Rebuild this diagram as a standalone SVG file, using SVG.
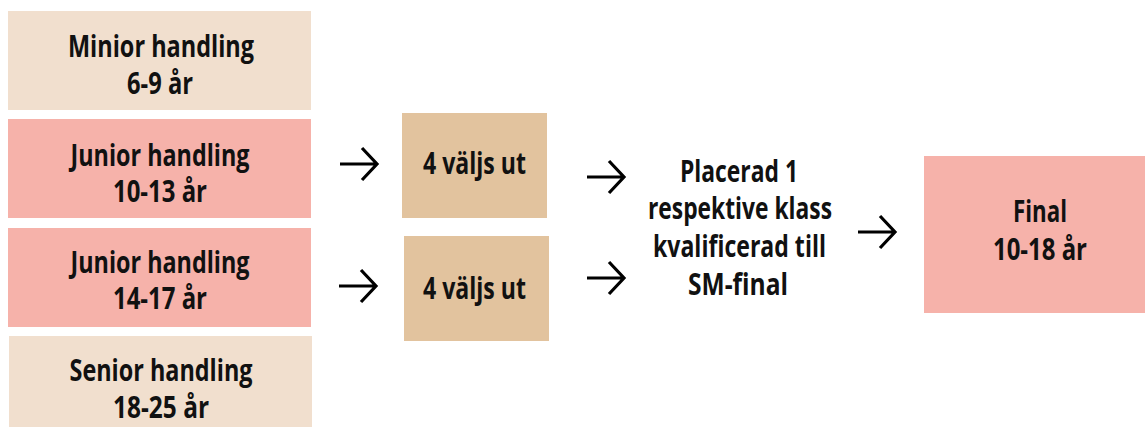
<svg xmlns="http://www.w3.org/2000/svg" width="1145" height="427" viewBox="0 0 1145 427">
<style>
.t{font-family:"Open Sans","Liberation Sans",sans-serif;font-weight:bold;font-size:30px;fill:#111;text-anchor:middle}
.beige{fill:#F1DFCE}
.pink{fill:#F6B2AA}
.tan{fill:#E2C39E}
.arr{fill:none;stroke:#000;stroke-width:3.2}
</style>
<rect width="1145" height="427" fill="#fff"/>
<g id="minior">
<rect class="beige" x="8" y="11" width="303" height="99"/>
<text class="t" x="161" y="57" textLength="186" lengthAdjust="spacingAndGlyphs">Minior handling</text>
<text class="t" x="160" y="94" textLength="66" lengthAdjust="spacingAndGlyphs">6-9 år</text>
</g>
<g id="junior1013">
<rect class="pink" x="8" y="119" width="303" height="99"/>
<text class="t" x="160" y="166" textLength="179" lengthAdjust="spacingAndGlyphs">Junior handling</text>
<text class="t" x="160" y="202" textLength="94" lengthAdjust="spacingAndGlyphs">10-13 år</text>
</g>
<g id="junior1417">
<rect class="pink" x="8" y="228" width="303" height="99"/>
<text class="t" x="160" y="273" textLength="179" lengthAdjust="spacingAndGlyphs">Junior handling</text>
<text class="t" x="160" y="309" textLength="94" lengthAdjust="spacingAndGlyphs">14-17 år</text>
</g>
<g id="senior">
<rect class="beige" x="9" y="336" width="303" height="91"/>
<text class="t" x="161" y="381" textLength="183" lengthAdjust="spacingAndGlyphs">Senior handling</text>
<text class="t" x="161" y="418" textLength="96" lengthAdjust="spacingAndGlyphs">18-25 år</text>
</g>
<g id="valj1">
<rect class="tan" x="402" y="113" width="145" height="105"/>
<text class="t" x="474.5" y="174" textLength="103" lengthAdjust="spacingAndGlyphs">4 väljs ut</text>
</g>
<g id="valj2">
<rect class="tan" x="404" y="236" width="145" height="105"/>
<text class="t" x="474.5" y="299" textLength="103" lengthAdjust="spacingAndGlyphs">4 väljs ut</text>
</g>
<g id="placerad">
<text class="t" x="739" y="182" textLength="118" lengthAdjust="spacingAndGlyphs">Placerad 1</text>
<text class="t" x="740" y="219" textLength="184" lengthAdjust="spacingAndGlyphs">respektive klass</text>
<text class="t" x="739.5" y="257" textLength="173" lengthAdjust="spacingAndGlyphs">kvalificerad till</text>
<text class="t" x="738" y="295" textLength="100" lengthAdjust="spacingAndGlyphs">SM-final</text>
</g>
<g id="final">
<rect class="pink" x="924" y="156" width="221" height="157"/>
<text class="t" x="1040" y="222" textLength="54" lengthAdjust="spacingAndGlyphs">Final</text>
<text class="t" x="1040" y="260" textLength="94" lengthAdjust="spacingAndGlyphs">10-18 år</text>
</g>
<g id="connectors">
<path class="arr" d="M340 164H377M362 148L377 164L362 180"/>
<path class="arr" d="M339 286H376M361 270L376 286L361 302"/>
<path class="arr" d="M587 177H624M609 161L624 177L609 193"/>
<path class="arr" d="M587 278H624M609 262L624 278L609 294"/>
<path class="arr" d="M858 232H895M880 216L895 232L880 248"/>
</g>
</svg>
